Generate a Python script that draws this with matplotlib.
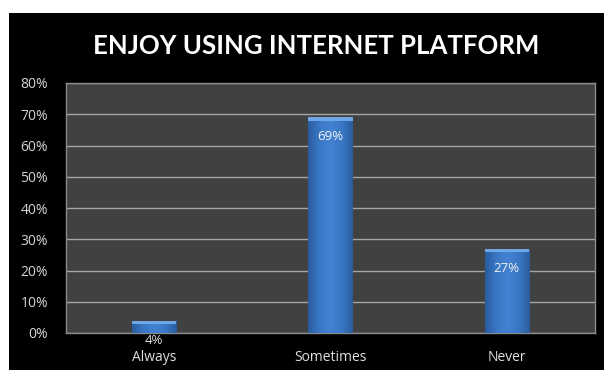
import numpy as np
import matplotlib.pyplot as plt
from matplotlib.colors import LinearSegmentedColormap
from matplotlib.patches import Rectangle

categories = ['Always', 'Sometimes', 'Never']
shares = [4, 69, 27]
value_labels = ['4%', '69%', '27%']
y_ticks = [0, 10, 20, 30, 40, 50, 60, 70, 80]

plt.rcParams['font.family'] = ['Open Sans', 'DejaVu Sans']

fig = plt.figure(figsize=(6.04, 3.70), dpi=100, facecolor='white')
# black chart panel with a thin white margin at top/left
panel = fig.add_axes([9 / 604, 0, 595 / 604, 357 / 370])
panel.set_facecolor('black')
panel.set_xticks([])
panel.set_yticks([])
for s in panel.spines.values():
    s.set_visible(False)

ax = fig.add_axes([66 / 604, 37 / 370, 529 / 604, 250 / 370])
ax.set_facecolor('#414141')
ax.set_xlim(-0.5, 2.5)
ax.set_ylim(0, 80)
ax.set_yticks(y_ticks)
ax.set_yticklabels([f'{t}%' for t in y_ticks], color='#d4d4d4', fontsize=10)
ax.set_xticks(range(len(categories)))
ax.set_xticklabels(categories, color='#e0e0e0', fontsize=10)
ax.tick_params(length=0)
ax.tick_params(axis='y', pad=13)
ax.tick_params(axis='x', pad=12)
ax.grid(axis='y', color='#a5a5a5', linewidth=1)
ax.set_axisbelow(True)
for s in ax.spines.values():
    s.set_color('#8a8a8a')
    s.set_linewidth(1)

fig.text(316 / 604, 1 - 46 / 370, 'ENJOY USING INTERNET PLATFORM',
         ha='center', va='center', color='white', fontsize=18.5,
         fontweight='bold', family=['Lato', 'DejaVu Sans'])

# horizontal shading for the bevelled bars
bar_cmap = LinearSegmentedColormap.from_list(
    'bar', ['#2a5d9f', '#3a78c6', '#4282d2', '#3a78c6', '#2a5d9f'])
grad = np.linspace(0, 1, 64).reshape(1, -1)
width = 0.25
for i, (v, lab) in enumerate(zip(shares, value_labels)):
    x0 = i - width / 2
    bar = Rectangle((x0, 0), width, v, facecolor='none', edgecolor='none')
    ax.add_patch(bar)
    im = ax.imshow(grad, cmap=bar_cmap, aspect='auto', extent=(x0, x0 + width, 0, v),
                   zorder=3)
    im.set_clip_path(bar)
    cap = min(1.1, v * 0.3)
    ax.add_patch(Rectangle((x0, v - cap), width, cap, facecolor='#6fa6e6',
                           edgecolor='none', zorder=4))
    if v > 10:
        ax.text(i, v - 6.2, lab, ha='center', va='center', color='#f0f0f0',
                fontsize=9.5, zorder=5)
    else:
        ax.text(i, -2.3, lab, ha='center', va='center', color='#e0e0e0',
                fontsize=9.5, clip_on=False)

ax.set_xlim(-0.5, 2.5)
fig.savefig('out.png', dpi=100, facecolor='white')
